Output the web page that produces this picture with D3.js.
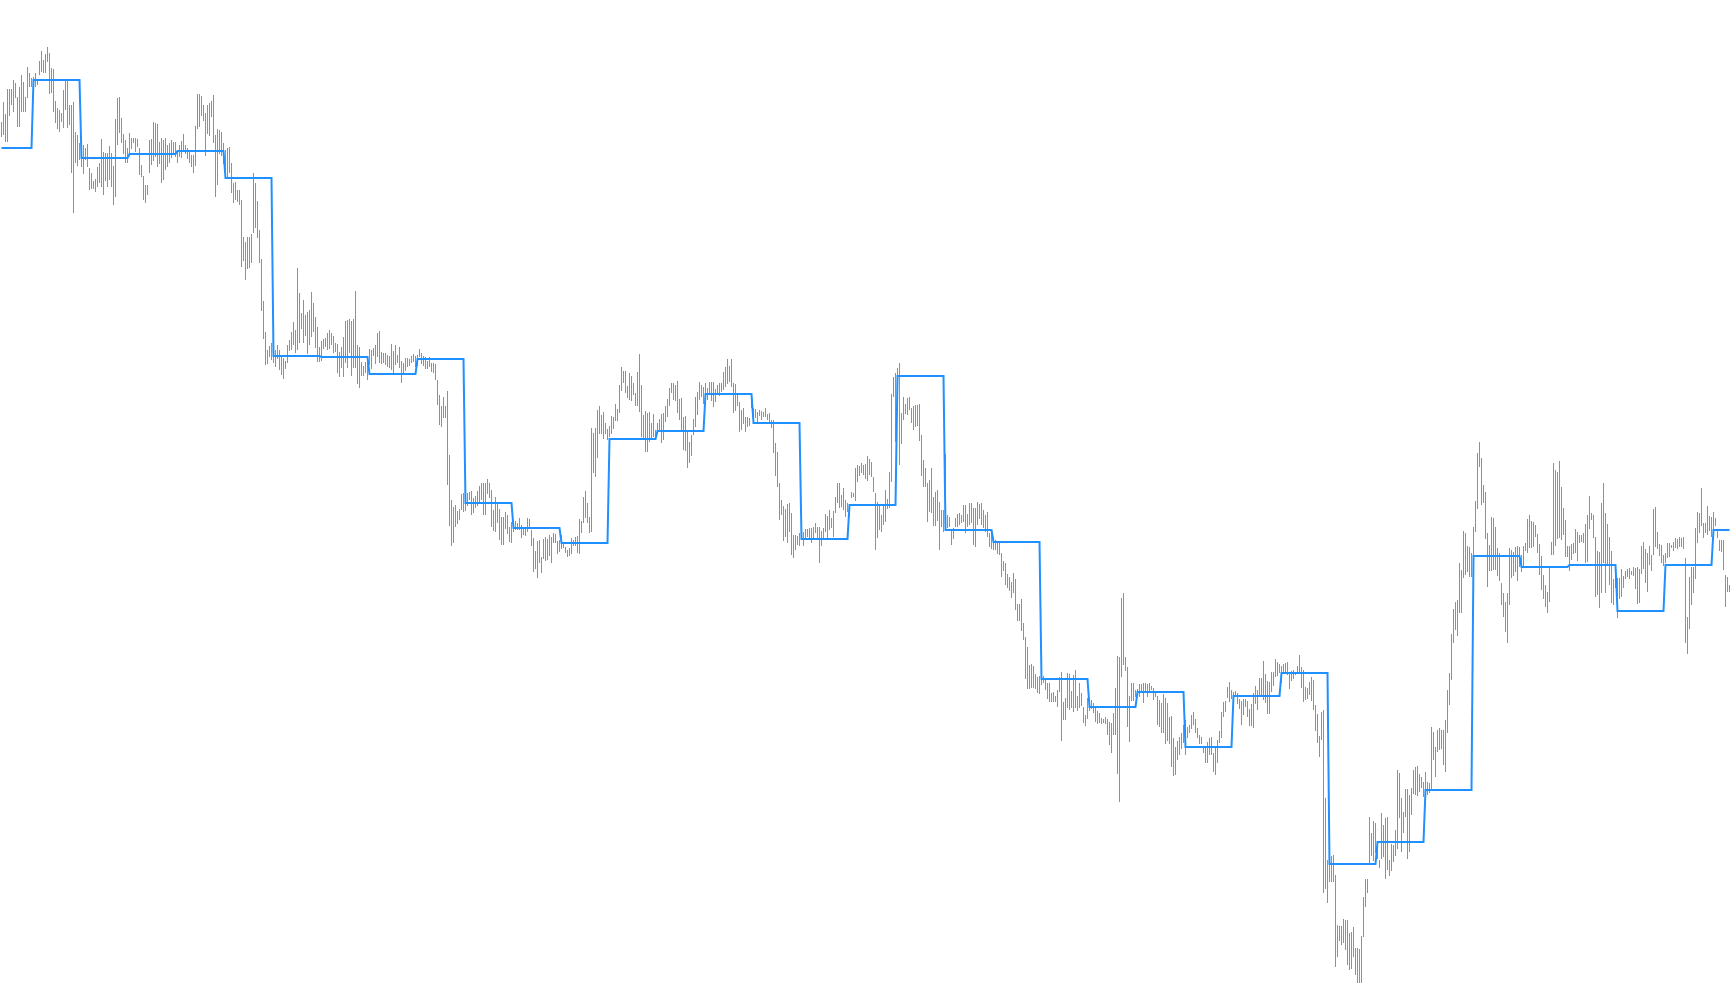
<!DOCTYPE html>
<html>
<head>
<meta charset="utf-8">
<script src="https://cdn.jsdelivr.net/npm/d3@7"></script>
<style>
  html, body { margin: 0; padding: 0; background: #ffffff; }
  svg { display: block; }
</style>
</head>
<body>
<svg id="chart" width="1730" height="1005"></svg>
<script>
// Bar highs (price points)
const barHigh = [
878,898,886,911,911,911,920,917,903,913,
925,918,903,933,927,922,923,927,920,939,
949,940,946,953,947,932,931,899,892,890,
887,910,920,919,895,895,898,868,865,857,
852,855,852,856,832,827,819,821,833,837,
861,848,847,847,854,847,834,881,902,903,
882,866,860,852,867,862,862,862,861,852,
835,824,815,815,860,861,878,877,876,858,
862,860,862,855,857,860,858,858,849,855,
859,866,855,852,850,845,845,874,906,906,
904,895,887,895,897,899,905,865,871,870,
868,857,850,852,853,837,817,818,810,810,
800,763,758,763,763,766,827,817,799,770,
741,699,668,650,654,657,653,650,655,650,
643,642,639,655,660,668,678,670,732,707,
687,700,685,688,690,708,697,683,673,653,
659,661,662,667,670,667,664,657,656,648,
653,663,679,680,681,679,681,709,655,653,
638,634,638,639,651,650,652,655,667,669,
648,647,647,645,644,656,649,655,645,653,
639,637,642,642,641,644,646,644,645,651,
647,644,643,639,643,637,637,636,620,605,
594,603,594,609,545,500,493,495,489,491,
506,507,502,507,508,509,502,504,509,514,
517,517,517,521,517,510,490,503,497,491,
483,483,488,485,473,478,480,479,477,482,
475,473,472,482,481,470,462,449,459,460,
443,461,463,461,465,463,467,466,459,460,
465,458,453,450,452,462,460,463,464,481,
479,503,509,497,483,572,567,572,590,594,
585,588,577,571,574,584,583,596,591,615,
633,629,629,614,627,624,617,607,628,646,
615,585,589,587,588,577,586,570,577,581,
586,587,594,601,612,617,617,615,619,601,
602,583,584,569,558,565,581,603,608,618,
615,613,617,612,618,618,618,611,615,617,
617,628,633,641,634,641,617,616,607,598,
590,592,583,583,582,604,592,591,588,590,
589,588,592,586,587,580,580,557,548,517,
500,494,491,496,497,487,465,465,464,467,
467,468,471,471,472,472,473,477,473,473,
469,472,486,484,490,482,489,503,517,517,
505,512,500,497,492,508,507,532,535,534,
537,535,536,544,541,538,523,507,498,496,
485,496,510,501,528,606,623,627,632,637,
587,603,596,602,603,592,594,595,595,596,
565,540,532,517,520,532,503,508,510,498,
490,490,546,485,483,471,472,482,486,487,
485,495,495,486,497,497,492,492,498,496,
497,490,485,488,467,467,462,460,458,457,
447,439,437,426,423,418,427,421,396,396,
401,377,363,353,335,336,334,326,323,324,
327,324,321,317,317,307,308,304,310,323,
328,298,302,327,326,309,325,330,304,317,
307,293,285,302,298,300,297,293,289,287,
282,281,283,281,278,277,287,312,344,343,
402,407,343,333,304,317,317,310,311,316,
316,317,317,316,317,314,312,309,304,300,
297,306,302,297,283,284,262,253,259,263,
267,275,280,273,275,285,288,281,272,265,
263,253,253,258,262,263,247,253,260,269,
288,298,299,313,318,310,308,309,307,301,
299,301,301,299,291,296,307,314,310,322,
322,339,326,319,318,328,328,341,338,336,
334,336,337,338,327,329,330,328,334,345,
333,330,313,312,318,323,320,295,286,264,
288,290,202,140,139,144,145,125,75,74,
74,81,80,80,67,68,73,52,52,51,
64,103,121,121,183,167,179,177,158,140,
187,175,182,183,140,156,155,170,230,227,
202,188,211,211,205,212,230,233,234,226,
223,218,228,218,217,273,268,253,270,272,
270,270,280,310,327,366,391,398,400,437,
430,469,467,454,453,447,473,499,547,558,
542,515,508,467,455,483,482,473,452,447,
417,407,398,407,452,450,448,453,454,453,
445,454,457,481,485,479,478,475,466,456,
444,425,415,408,433,458,537,530,528,539,
513,492,480,454,454,456,457,471,468,465,
465,467,476,485,504,487,485,463,449,448,
497,517,487,476,463,449,421,435,422,422,
431,424,429,431,432,429,433,432,433,431,
454,458,451,447,454,445,491,493,468,456,
455,445,447,457,457,455,458,462,461,463,
462,463,442,383,423,433,433,472,488,487,
512,477,477,494,484,483,488,482,471,460,
460,460,425,423,415
];

// Bar lows (price points)
const barLow = [
863,865,858,858,884,895,888,902,873,873,
888,888,888,902,913,913,915,913,915,925,
928,927,927,938,906,907,888,877,871,868,
878,872,890,872,875,827,787,837,834,840,
833,826,840,833,810,811,811,808,813,817,
813,805,819,813,820,813,795,803,855,867,
857,846,837,837,847,851,857,848,853,825,
823,800,797,805,827,835,839,843,833,836,
817,820,830,833,837,842,845,843,837,843,
842,848,846,841,837,833,827,834,871,873,
884,879,844,866,864,883,857,803,815,846,
844,836,826,823,827,807,797,800,798,795,
733,739,720,731,732,737,767,772,762,737,
689,661,635,636,643,640,637,633,641,630,
625,621,631,637,649,650,655,647,650,657,
671,657,664,646,655,663,668,652,638,638,
639,651,653,650,651,655,647,648,627,623,
632,623,637,632,647,624,632,632,616,612,
624,624,627,620,635,631,644,636,643,637,
636,637,635,633,632,630,627,635,637,632,
617,627,629,633,634,637,638,633,634,643,
636,634,631,631,633,628,627,620,595,575,
573,582,582,515,474,454,457,473,476,480,
490,488,489,494,500,485,487,492,494,497,
500,485,485,506,502,473,469,468,477,460,
455,455,471,466,458,457,468,470,470,470,
462,465,464,468,472,454,428,431,422,437,
427,441,439,440,444,437,457,457,446,448,
451,452,447,443,444,446,454,454,447,446,
467,477,482,477,467,468,527,523,542,566,
566,561,566,560,563,566,571,579,579,587,
609,617,607,602,600,599,605,594,594,588,
563,562,548,548,558,562,563,563,567,570,
557,560,578,583,594,607,600,599,587,580,
568,550,549,532,537,544,565,573,585,600,
603,596,605,600,606,599,593,598,607,604,
608,610,613,616,618,613,587,589,594,568,
570,576,568,573,574,592,578,582,578,584,
580,583,583,580,578,572,547,524,513,480,
485,459,463,457,468,445,442,450,455,454,
460,454,461,463,461,457,462,467,461,437,
454,460,468,462,470,472,463,487,497,492,
493,490,483,488,483,502,503,499,518,524,
527,525,521,519,525,523,508,450,462,470,
468,475,478,491,492,518,603,558,614,535,
556,580,586,585,590,577,570,573,574,559,
524,513,513,478,488,487,474,474,479,450,
473,468,480,472,473,455,461,473,473,475,
477,478,467,473,475,477,455,453,475,481,
475,472,468,463,453,451,450,450,446,445,
423,429,415,412,409,402,407,390,379,379,
369,360,321,311,311,312,312,311,307,306,
315,317,310,301,298,298,298,298,293,308,
259,280,280,292,290,292,288,292,289,292,
294,277,274,281,289,291,287,278,276,277,
276,277,276,265,255,247,265,265,226,198,
323,335,329,273,258,299,299,303,304,303,
309,297,309,303,307,310,300,303,275,273,
267,267,256,259,256,233,224,225,240,245,
251,257,245,262,267,271,275,267,262,256,
256,247,237,237,245,245,228,225,237,257,
262,283,288,302,298,301,304,303,296,291,
275,285,293,283,274,274,272,296,290,303,
303,300,297,286,286,308,314,323,324,327,
317,326,327,325,311,319,321,325,327,327,
312,298,300,301,305,299,290,269,257,243,
260,107,111,97,118,118,118,33,43,59,
55,57,50,35,30,31,43,25,17,17,
17,63,93,107,135,144,139,147,141,132,
141,143,121,130,124,129,138,144,151,182,
148,167,183,141,148,185,206,205,204,208,
212,203,208,205,207,210,240,223,248,250,
251,235,228,267,295,320,357,370,364,387,
387,422,425,428,423,423,423,468,491,533,
495,497,461,413,429,429,430,430,424,419,
395,383,368,357,395,422,424,428,419,433,
428,432,449,447,452,452,453,463,447,425,
410,401,393,387,398,445,445,454,461,462,
460,465,443,443,429,440,446,447,439,457,
458,457,437,438,471,480,462,403,405,392,
407,437,407,435,415,397,395,412,382,401,
403,412,421,423,421,425,424,411,396,397,
426,431,417,408,435,429,445,453,451,444,
437,434,437,442,443,452,449,452,451,453,
453,451,357,346,371,395,407,421,457,467,
474,462,467,465,469,463,470,474,462,449,
448,430,393,408,408
];

// Higher-timeframe step levels (one per period)
const stepLevel = [
852,920,842,846,849,822,644,643,626,641,
497,472,457,561,569,606,577,461,495,624,
470,458,321,293,308,253,304,327,136,158,
210,444,433,435,389,435,470
];
const firstPeriodBars = 16;
const periodBars = 24;

const W = 1730, H = 1005;
const svg = d3.select("#chart");

const x = d3.scaleLinear().domain([0, barHigh.length - 1]).range([1, 1729]);
const y = d3.scaleLinear().domain([0, 1000]).range([1000, 0]);

const bars = barHigh.map((h, i) => ({ i, h, l: barLow[i] }));

svg.append("g")
  .attr("shape-rendering", "crispEdges")
  .selectAll("rect")
  .data(bars)
  .join("rect")
  .attr("x", d => x(d.i))
  .attr("y", d => y(d.h))
  .attr("width", 1)
  .attr("height", d => Math.max(1, y(d.l) - y(d.h)))
  .attr("fill", "#22dd22");

const stepSeries = bars.map(d => {
  const p = d.i < firstPeriodBars ? 0 : 1 + Math.floor((d.i - firstPeriodBars) / periodBars);
  return { i: d.i, v: stepLevel[p] };
});

const line = d3.line()
  .x(d => x(d.i) + 0.5)
  .y(d => y(d.v));

svg.append("path")
  .datum(stepSeries)
  .attr("d", line)
  .attr("fill", "none")
  .attr("stroke", "#1e90ff")
  .attr("stroke-width", 2)
  .attr("stroke-linejoin", "miter");
</script>
</body>
</html>
